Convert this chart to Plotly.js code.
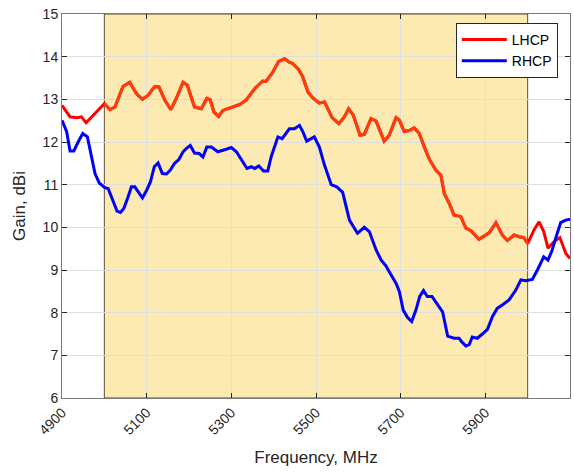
<!DOCTYPE html>
<html>
<head>
<meta charset="utf-8">
<script src="https://cdn.plot.ly/plotly-3.0.1.min.js"></script>
<style>html,body{margin:0;padding:0;background:#fff;}#chart{width:574px;height:473px;}</style>
</head>
<body>
<div id="chart"></div>
<script>
// Frequency band highlighted (MHz)
const bandFreq = [5000, 6000];

// LHCP gain (dBi)
const lhcpFreq = [4900,4919,4935,4946,4957,5000,5013,5025,5044,5060,5076,5090,5103,5119,5129,5143,5157,5170,5186,5196,5213,5229,5242,5250,5259,5270,5280,5304,5320,5335,5355,5374,5382,5398,5412,5426,5437,5445,5459,5469,5481,5492,5508,5520,5538,5554,5567,5577,5588,5604,5614,5630,5642,5661,5673,5689,5697,5708,5720,5732,5744,5756,5767,5783,5795,5803,5815,5826,5842,5854,5866,5885,5897,5909,5925,5940,5952,5968,5980,5991,6000,6015,6027,6038,6048,6062,6076,6090,6100];
const lhcpGain = [12.86,12.59,12.57,12.59,12.45,12.90,12.76,12.82,13.30,13.40,13.13,13.00,13.09,13.30,13.29,12.98,12.76,13.02,13.40,13.33,12.82,12.78,13.02,12.99,12.70,12.60,12.74,12.82,12.88,12.98,13.25,13.43,13.42,13.64,13.89,13.95,13.87,13.84,13.70,13.52,13.17,13.04,12.91,12.94,12.57,12.43,12.59,12.78,12.63,12.16,12.18,12.55,12.49,12.02,12.16,12.57,12.51,12.25,12.27,12.33,12.20,11.88,11.61,11.34,11.22,10.79,10.56,10.29,10.25,9.98,9.92,9.72,9.80,9.87,10.11,9.82,9.69,9.82,9.78,9.76,9.62,9.94,10.13,9.90,9.51,9.66,9.76,9.39,9.27];

// RHCP gain (dBi)
const rhcpFreq = [4900,4911,4919,4928,4938,4949,4960,4970,4978,4988,5001,5009,5021,5030,5038,5046,5056,5064,5072,5082,5090,5100,5109,5118,5127,5137,5147,5156,5166,5176,5186,5194,5203,5213,5224,5233,5242,5253,5268,5288,5300,5312,5324,5337,5347,5355,5365,5376,5386,5394,5410,5420,5437,5449,5461,5469,5478,5496,5508,5520,5536,5549,5563,5579,5598,5614,5626,5642,5654,5665,5673,5689,5697,5706,5716,5726,5736,5745,5754,5763,5774,5783,5799,5811,5826,5838,5844,5854,5862,5869,5881,5893,5905,5917,5928,5940,5956,5972,5984,5995,6011,6023,6038,6048,6058,6066,6078,6090,6100];
const rhcpGain = [12.51,12.24,11.79,11.79,12.00,12.20,12.12,11.61,11.26,11.04,10.93,10.91,10.60,10.38,10.35,10.44,10.71,10.95,10.95,10.79,10.69,10.87,11.07,11.42,11.51,11.26,11.25,11.34,11.50,11.59,11.77,11.85,11.92,11.74,11.73,11.65,11.88,11.88,11.77,11.83,11.87,11.77,11.59,11.38,11.42,11.38,11.44,11.32,11.32,11.65,12.12,12.08,12.31,12.31,12.39,12.24,12.02,12.12,11.88,11.46,11.00,10.95,10.82,10.17,9.86,10.00,9.90,9.47,9.23,9.10,8.96,8.69,8.49,8.06,7.89,7.79,8.06,8.38,8.52,8.38,8.38,8.26,8.02,7.45,7.40,7.40,7.32,7.22,7.25,7.43,7.40,7.50,7.61,7.91,8.10,8.18,8.30,8.53,8.77,8.75,8.78,9.00,9.31,9.23,9.47,9.74,10.11,10.17,10.19];

const seriesNames = ['LHCP', 'RHCP'];
const xTicks = [4900, 5100, 5300, 5500, 5700, 5900];
const yTicks = [6, 7, 8, 9, 10, 11, 12, 13, 14, 15];

const inBandX = [], inBandY = [];
lhcpFreq.forEach((f, i) => { if (f >= bandFreq[0] && f <= bandFreq[1]) { inBandX.push(f); inBandY.push(lhcpGain[i]); } });

const fam = '"Liberation Sans", Arial, Helvetica, sans-serif';
const font = {family: fam, size: 14, color: '#262626'};

const traces = [
  {x: lhcpFreq, y: lhcpGain, name: seriesNames[0], type: 'scatter', mode: 'lines', line: {color: '#FF0000', width: 3}},
  {x: inBandX, y: inBandY, type: 'scatter', mode: 'lines', showlegend: false, hoverinfo: 'skip', line: {color: '#FF3C0A', width: 3}},
  {x: rhcpFreq, y: rhcpGain, name: seriesNames[1], type: 'scatter', mode: 'lines', line: {color: '#0000FF', width: 3}}
];

const layout = {
  width: 574, height: 473,
  margin: {l: 62, r: 4, t: 14, b: 75},
  paper_bgcolor: '#ffffff', plot_bgcolor: '#ffffff',
  font: font,
  showlegend: true,
  legend: {x: 0.976, y: 0.977, xanchor: 'right', yanchor: 'top', bgcolor: '#ffffff', bordercolor: '#262626', borderwidth: 1, font: {family: fam, size: 14, color: '#000'}, itemwidth: 45, tracegroupgap: 0},
  xaxis: {
    range: [4900, 6100], tickvals: xTicks, ticktext: xTicks.map(String), tickangle: -45,
    showgrid: true, gridcolor: '#dedede', gridwidth: 1, zeroline: false,
    showline: true, linecolor: '#7a7a7a', linewidth: 1, mirror: 'allticks',
    ticks: 'inside', ticklen: 5, tickcolor: '#262626', tickfont: {family: fam, size: 14, color: '#262626'},
    title: {text: 'Frequency, MHz', font: {family: fam, size: 17, color: '#262626'}, standoff: 14}
  },
  yaxis: {
    range: [6, 15], tickvals: yTicks, ticktext: yTicks.map(String),
    showgrid: true, gridcolor: '#dedede', gridwidth: 1, zeroline: false,
    showline: true, linecolor: '#7a7a7a', linewidth: 1, mirror: 'allticks',
    ticks: 'inside', ticklen: 5, tickcolor: '#262626', tickfont: {family: fam, size: 14, color: '#262626'},
    title: {text: 'Gain, dBi', font: {family: fam, size: 17, color: '#262626'}, standoff: 12}
  },
  shapes: [
    {type: 'rect', xref: 'x', yref: 'paper', x0: bandFreq[0], x1: bandFreq[1], y0: 0, y1: 1, layer: 'between',
     fillcolor: 'rgba(250,200,62,0.4)', line: {color: 'rgba(50,40,25,0.8)', width: 1}}
  ]
};

Plotly.newPlot('chart', traces, layout, {displayModeBar: false, staticPlot: true});
</script>
</body>
</html>
